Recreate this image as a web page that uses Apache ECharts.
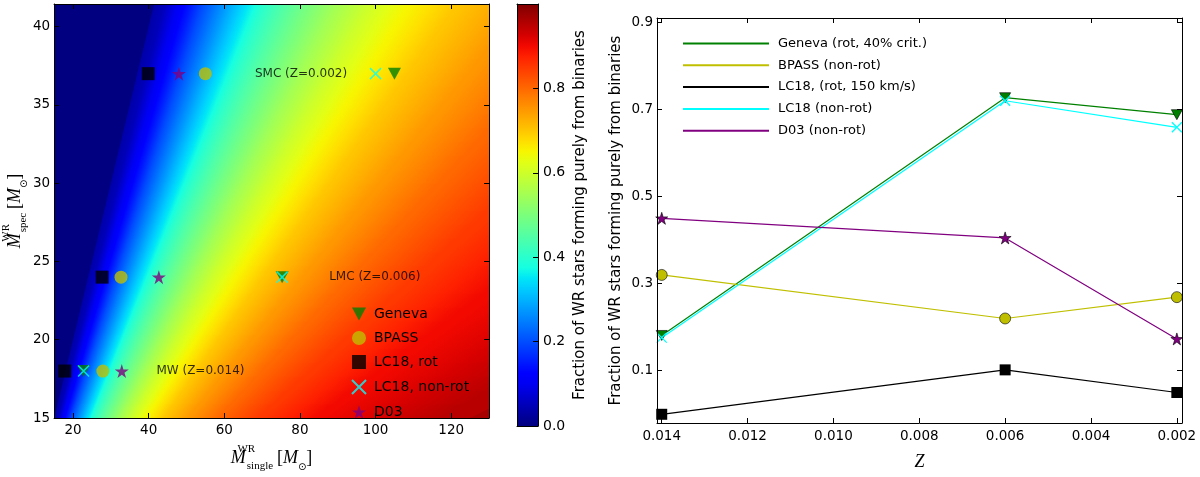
<!DOCTYPE html>
<html><head><meta charset="utf-8">
<script src="https://cdn.jsdelivr.net/npm/echarts@6/dist/echarts.min.js"></script>
<style>html,body{margin:0;padding:0;background:#fff;}#c{width:1200px;height:477px;}</style>
</head><body><div id="c"></div>
<script>
// ---------------- data ----------------
const regionLabels = ['MW (Z=0.014)', 'LMC (Z=0.006)', 'SMC (Z=0.002)'];
const regionLabelAt = [[53.7, 18], [99.8, 24], [80.3, 37]];
const metallicity = [0.014, 0.006, 0.002];
const mSpec = [18, 24, 37];

const genevaSingle = [22.8, 75.3, 105];
const bpassSingle = [27.9, 32.7, 55.0];
const lc18RotSingle = [17.8, 27.7, 39.9];
const lc18NonRotSingle = [22.8, 75.3, 100];
const d03Single = [32.9, 42.7, 48.0];

const genevaFrac = [0.181, 0.727, 0.688];
const bpassFrac = [0.32, 0.22, 0.269];
const lc18RotFrac = [0.0, 0.102, 0.05];
const lc18NonRotFrac = [0.176, 0.72, 0.659];
const d03Frac = [0.45, 0.405, 0.173];

// background field: contour levels and the M_single where each level crosses
// the bottom edge (M_spec = 15) and the top edge (M_spec = 41.45)
const fieldLevels = [0, 0.05, 0.1, 0.15, 0.2, 0.25, 0.3, 0.35, 0.4, 0.45, 0.5, 0.55, 0.6, 0.65, 0.7, 0.75, 0.8, 0.85, 0.9, 0.95];
const contourAtBottom = [15, 16.0, 17.2, 18.5, 19.7, 21.1, 22.6, 24.0, 25.4, 27.5, 30, 32.6, 35.7, 39.5, 44.1, 50.8, 58.8, 69.8, 85.7, 125];
const contourAtTop = [41.45, 44.1, 47.6, 51.2, 54.5, 58.4, 62.3, 66.3, 70.3, 76.1, 82.9, 90.1, 98.7, 109, 122, 140.5, 162.5, 193, 237, 345];
const fieldEdges = [15, 41.45];
const colorbarRange = [0, 1];

const leftXTicks = [20, 40, 60, 80, 100, 120];
const leftYTicks = [15, 20, 25, 30, 35, 40];
const cbTicks = [0, 0.2, 0.4, 0.6, 0.8];
const rightXTicks = [0.014, 0.012, 0.010, 0.008, 0.006, 0.004, 0.002];
const rightYTicks = [0.1, 0.3, 0.5, 0.7, 0.9];

// ---------------- helpers ----------------
function jet(v) {
  const seg = pts => {
    for (let i = 1; i < pts.length; i++) {
      if (v <= pts[i][0]) {
        const [x0, y0] = pts[i - 1], [x1, y1] = pts[i];
        return y0 + (y1 - y0) * (v - x0) / (x1 - x0);
      }
    }
    return pts[pts.length - 1][1];
  };
  const r = seg([[0, 0], [0.35, 0], [0.66, 1], [0.89, 1], [1, 0.5]]);
  const g = seg([[0, 0], [0.125, 0], [0.375, 1], [0.64, 1], [0.91, 0], [1, 0]]);
  const b = seg([[0, 0.5], [0.11, 1], [0.34, 1], [0.65, 0], [1, 0]]);
  return 'rgb(' + Math.round(r * 255) + ',' + Math.round(g * 255) + ',' + Math.round(b * 255) + ')';
}
function clipPoly(pts, rect) {
  let out = pts;
  const clipEdge = (inside, inter) => {
    const input = out; out = [];
    for (let i = 0; i < input.length; i++) {
      const cur = input[i], prev = input[(i + input.length - 1) % input.length];
      const ci = inside(cur), pi = inside(prev);
      if (ci) { if (!pi) out.push(inter(prev, cur)); out.push(cur); }
      else if (pi) out.push(inter(prev, cur));
    }
  };
  const xL = rect.x, xR = rect.x + rect.width, yT = rect.y, yB = rect.y + rect.height;
  const ix = x => (a, b) => [x, a[1] + (b[1] - a[1]) * (x - a[0]) / (b[0] - a[0])];
  const iy = y => (a, b) => [a[0] + (b[0] - a[0]) * (y - a[1]) / (b[1] - a[1]), y];
  clipEdge(p => p[0] >= xL, ix(xL));
  clipEdge(p => p[0] <= xR, ix(xR));
  clipEdge(p => p[1] >= yT, iy(yT));
  clipEdge(p => p[1] <= yB, iy(yB));
  return out;
}
const cross = (a, b) => a[0] * b[1] - a[1] * b[0];

const STAR = 'path://M50,0L61.2,34.5L97.6,34.5L68.2,55.9L79.4,90.5L50,69.1L20.6,90.5L31.8,55.9L2.4,34.5L38.8,34.5Z';
const XMARK = 'path://M0,0L10,10M10,0L0,10';
const TRI_DOWN = 'path://M0,0L12,0L6,11Z';
const C_GEN = '#008000', C_BP = '#bfbf00', C_LR = '#000000', C_LN = '#00ffff', C_D03 = '#800080';
const SANS = 'DejaVu Sans';

function frameAxis(extra) {
  return Object.assign({
    type: 'value', z: 10,
    axisLine: { show: true, onZero: false, lineStyle: { color: '#000', width: 1 } },
    axisTick: { show: true, inside: true, length: 5, lineStyle: { color: '#000' } },
    axisLabel: { show: false },
    splitLine: { show: false }
  }, extra);
}

const mathRich = {
  m: { fontFamily: 'Liberation Serif', fontStyle: 'italic', fontSize: 18, lineHeight: 28, color: '#000' },
  n: { fontFamily: 'Liberation Serif', fontSize: 18, lineHeight: 28, color: '#000' },
  sup: { fontFamily: 'Liberation Serif', fontSize: 11, verticalAlign: 'top', width: 1, color: '#000' },
  sub: { fontFamily: 'Liberation Serif', fontSize: 11, verticalAlign: 'bottom', color: '#000' },
  sun: { fontFamily: 'DejaVu Sans', fontSize: 10, verticalAlign: 'bottom', color: '#000' }
};

// ---------------- series ----------------
const fieldData = [[fieldEdges[0], fieldEdges[0], -1]].concat(
  fieldLevels.map((L, i) => [contourAtBottom[i], fieldEdges[0], i]));
const SLICES = 30;

const fieldSeries = {
  type: 'custom', name: 'field', xAxisIndex: 0, yAxisIndex: 0, silent: true, z: 1,
  encode: { x: 0, y: 1 },
  data: fieldData,
  renderItem: (params, api) => {
    const i = api.value(2);
    const cs = params.coordSys;
    const rect = { x: cs.x, y: cs.y, width: cs.width, height: cs.height };
    if (i < 0) {
      return { type: 'rect', shape: { x: rect.x, y: rect.y, width: rect.width, height: rect.height }, style: { fill: jet(0) } };
    }
    const lineP = k => [api.coord([contourAtBottom[k], fieldEdges[0]]), api.coord([contourAtTop[k], fieldEdges[1]])];
    const [pb, pt] = lineP(i);
    const xi = y => pb[0] + (pt[0] - pb[0]) * (pb[1] - y) / (pb[1] - pt[1]);
    const last = i === fieldLevels.length - 1;
    let n = null, qb = null, e = null;
    if (!last) {
      const dx = pt[0] - pb[0], dy = pt[1] - pb[1], len = Math.hypot(dx, dy);
      n = [-dy / len, dx / len];
      const q = lineP(i + 1);
      qb = q[0];
      e = [q[1][0] - q[0][0], q[1][1] - q[0][1]];
    }
    const yB = rect.y + rect.height, yT = rect.y;
    const h = rect.height / SLICES;
    const children = [];
    const startLevel = i === 0 ? 0.035 : fieldLevels[i];
    for (let s = 0; s < SLICES; s++) {
      const ya = yB - s * h;
      const yb = Math.max(yT, yB - (s + 1) * h - 0.7);
      const ym = (ya + yb) / 2;
      const right = Math.max(rect.x + rect.width, xi(ya), xi(yb)) + 2;
      const pts = clipPoly([[xi(ya), ya], [right, ya], [right, yb], [xi(yb), yb]], rect);
      if (pts.length < 3) continue;
      let fill;
      if (last) {
        fill = jet(0.965);
      } else {
        const A = [xi(ym), ym];
        const t = cross([qb[0] - A[0], qb[1] - A[1]], e) / cross(n, e);
        const B = [A[0] + t * n[0], A[1] + t * n[1]];
        fill = new echarts.graphic.LinearGradient(A[0], A[1], B[0], B[1], [
          { offset: 0, color: jet(startLevel) },
          { offset: 0.5, color: jet((startLevel + fieldLevels[i + 1]) / 2) },
          { offset: 1, color: jet(fieldLevels[i + 1]) }
        ], true);
      }
      children.push({ type: 'polygon', shape: { points: pts }, style: { fill: fill } });
    }
    return { type: 'group', children: children };
  }
};

const gradStops = [];
for (let k = 0; k <= 40; k++) gradStops.push({ offset: k / 40, color: jet(k / 40) });
const colorbarSeries = {
  type: 'custom', name: 'colorbar', xAxisIndex: 2, yAxisIndex: 2, silent: true, z: 1,
  encode: { x: 0, y: 1 },
  data: [[0, colorbarRange[0]]],
  renderItem: (params, api) => {
    const p0 = api.coord([0, colorbarRange[0]]);
    const p1 = api.coord([1, colorbarRange[1]]);
    return {
      type: 'rect',
      shape: { x: p0[0], y: p1[1], width: p1[0] - p0[0], height: p0[1] - p1[1] },
      style: { fill: new echarts.graphic.LinearGradient(0, 1, 0, 0, gradStops) }
    };
  }
};

function leftScatter(name, xs, symbol, size, style) {
  return {
    type: 'scatter', name: name, xAxisIndex: 0, yAxisIndex: 0, z: 5,
    symbol: symbol, symbolSize: size,
    itemStyle: style,
    data: xs.map((x, k) => [x, mSpec[k]])
  };
}
const leftSeries = [
  leftScatter('Geneva', genevaSingle, TRI_DOWN, [13, 12], { color: C_GEN }),
  leftScatter('BPASS', bpassSingle, 'circle', 13, { color: C_BP }),
  leftScatter('LC18, rot', lc18RotSingle, 'rect', 13, { color: C_LR }),
  leftScatter('LC18, non-rot', lc18NonRotSingle, XMARK, 11, { color: 'rgba(0,0,0,0)', borderColor: C_LN, borderWidth: 1.5 }),
  leftScatter('D03', d03Single, STAR, 14, { color: C_D03 })
];

const labelSeries = {
  type: 'scatter', name: 'labels', xAxisIndex: 0, yAxisIndex: 0, z: 6, silent: true,
  symbolSize: 0,
  data: regionLabels.map((t, k) => ({ name: t, value: regionLabelAt[k] })),
  label: { show: true, position: [0, 0], align: 'center', verticalAlign: 'middle', formatter: p => p.name, fontSize: 12, fontFamily: SANS, color: '#000' }
};

function rightLine(name, ys, color, symbol, size, style) {
  return {
    type: 'line', name: name, xAxisIndex: 3, yAxisIndex: 4, z: 5,
    symbol: symbol, symbolSize: size, showSymbol: true,
    lineStyle: { color: color, width: 1.2 },
    itemStyle: style,
    data: ys.map((y, k) => [metallicity[k], y])
  };
}
const rightSeries = [
  rightLine('Geneva (rot, 40% crit.)', genevaFrac, C_GEN, TRI_DOWN, [11, 10], { color: C_GEN, borderColor: '#000', borderWidth: 0.6 }),
  rightLine('BPASS (non-rot)', bpassFrac, C_BP, 'circle', 11, { color: C_BP, borderColor: '#000', borderWidth: 0.6 }),
  rightLine('LC18, (rot, 150 km/s)', lc18RotFrac, C_LR, 'rect', 11, { color: C_LR }),
  rightLine('LC18 (non-rot)', lc18NonRotFrac, C_LN, XMARK, 10, { color: 'rgba(0,0,0,0)', borderColor: C_LN, borderWidth: 1.3 }),
  rightLine('D03 (non-rot)', d03Frac, C_D03, STAR, 12, { color: C_D03, borderColor: '#000', borderWidth: 0.6 })
];

// ---------------- option ----------------
const option = {
  animation: false,
  backgroundColor: '#fff',
  textStyle: { fontFamily: SANS, color: '#000' },
  grid: [
    { left: 53, top: 4, width: 436, height: 423 },
    { left: 517, top: 4, width: 21, height: 422 },
    { left: 657, top: 18, width: 525, height: 405 }
  ],
  legend: [
    {
      data: leftSeries.map(s => s.name), orient: 'vertical', left: 351, top: 307, padding: 0,
      itemWidth: 14, itemHeight: 14, itemGap: 10, selectedMode: false,
      textStyle: { fontSize: 14, color: '#000', fontFamily: SANS, padding: [0, 0, 0, 3] }
    },
    {
      data: rightSeries.map(s => ({ name: s.name, icon: 'rect', itemStyle: { color: s.lineStyle.color, borderWidth: 0 } })),
      orient: 'vertical', left: 683, top: 37, padding: 0, itemWidth: 86, itemHeight: 2, itemGap: 8.8, selectedMode: false,
      textStyle: { fontSize: 13, color: '#000', fontFamily: SANS, padding: [0, 0, 0, 4] }
    }
  ],
  xAxis: [
    frameAxis({
      gridIndex: 0, min: 15, max: 130, position: 'bottom',
      axisTick: { show: true, inside: true, length: 5, lineStyle: { color: '#000' }, customValues: leftXTicks },
      axisLabel: { show: true, customValues: leftXTicks, fontSize: 13.5, color: '#000', margin: 5 },
      name: '{m|M}{sup|WR}{sub|single} {n|[}{m|M}{sun|⊙}{n|]}',
      nameLocation: 'middle', nameGap: 26,
      nameTextStyle: { rich: mathRich }
    }),
    frameAxis({
      gridIndex: 0, min: 15, max: 130, position: 'top',
      axisTick: { show: true, inside: true, length: 5, lineStyle: { color: '#000' }, customValues: leftXTicks }
    }),
    frameAxis({ gridIndex: 1, min: 0, max: 1, position: 'bottom', axisTick: { show: false } }),
    frameAxis({
      gridIndex: 2, min: 0.00188, max: 0.01411, inverse: true, position: 'bottom',
      axisTick: { show: true, inside: true, length: 5, lineStyle: { color: '#000' }, customValues: rightXTicks },
      axisLabel: { show: true, customValues: rightXTicks, formatter: v => v.toFixed(3), fontSize: 13.5, color: '#000', margin: 6 },
      name: 'Z', nameLocation: 'middle', nameGap: 30,
      nameTextStyle: { fontFamily: 'Liberation Serif', fontStyle: 'italic', fontSize: 18, color: '#000' }
    }),
    frameAxis({
      gridIndex: 2, min: 0.00188, max: 0.01411, inverse: true, position: 'top',
      axisTick: { show: true, inside: true, length: 5, lineStyle: { color: '#000' }, customValues: rightXTicks }
    }),
    frameAxis({ gridIndex: 1, min: 0, max: 1, position: 'top', axisTick: { show: false } })
  ],
  yAxis: [
    frameAxis({
      gridIndex: 0, min: 15, max: 41.45, position: 'left',
      axisTick: { show: true, inside: true, length: 5, lineStyle: { color: '#000' }, customValues: leftYTicks },
      axisLabel: { show: true, customValues: leftYTicks, fontSize: 13.5, color: '#000', margin: 4 },
      name: '{m|M}{sup|WR}{sub|spec} {n|[}{m|M}{sun|⊙}{n|]}',
      nameLocation: 'middle', nameGap: 20, nameRotate: 90,
      nameTextStyle: { rich: mathRich }
    }),
    frameAxis({
      gridIndex: 0, min: 15, max: 41.45, position: 'right',
      axisTick: { show: true, inside: true, length: 5, lineStyle: { color: '#000' }, customValues: leftYTicks }
    }),
    frameAxis({
      gridIndex: 1, min: colorbarRange[0], max: colorbarRange[1], position: 'right',
      axisTick: { show: true, inside: true, length: 5, lineStyle: { color: '#000' }, customValues: cbTicks },
      axisLabel: { show: true, customValues: cbTicks, formatter: v => v.toFixed(1), fontSize: 14, color: '#000', margin: 5 },
      name: 'Fraction of WR stars forming purely from binaries',
      nameLocation: 'middle', nameGap: 35, nameRotate: 90,
      nameTextStyle: { fontSize: 15, color: '#000', fontFamily: SANS }
    }),
    frameAxis({ gridIndex: 1, min: 0, max: 1, position: 'left', axisTick: { show: false } }),
    frameAxis({
      gridIndex: 2, min: -0.02, max: 0.91, position: 'left',
      axisTick: { show: true, inside: true, length: 5, lineStyle: { color: '#000' }, customValues: rightYTicks },
      axisLabel: { show: true, customValues: rightYTicks, formatter: v => v.toFixed(1), fontSize: 13.5, color: '#000', margin: 4 },
      name: 'Fraction of WR stars forming purely from binaries',
      nameLocation: 'middle', nameGap: 33, nameRotate: 90,
      nameTextStyle: { fontSize: 15, color: '#000', fontFamily: SANS }
    }),
    frameAxis({
      gridIndex: 2, min: -0.02, max: 0.91, position: 'right',
      axisTick: { show: true, inside: true, length: 5, lineStyle: { color: '#000' }, customValues: rightYTicks }
    })
  ],
  series: [fieldSeries, colorbarSeries].concat(leftSeries, [labelSeries], rightSeries)
};

const chart = echarts.init(document.getElementById('c'), null, { renderer: 'canvas' });
chart.setOption(option);
</script>
</body></html>
